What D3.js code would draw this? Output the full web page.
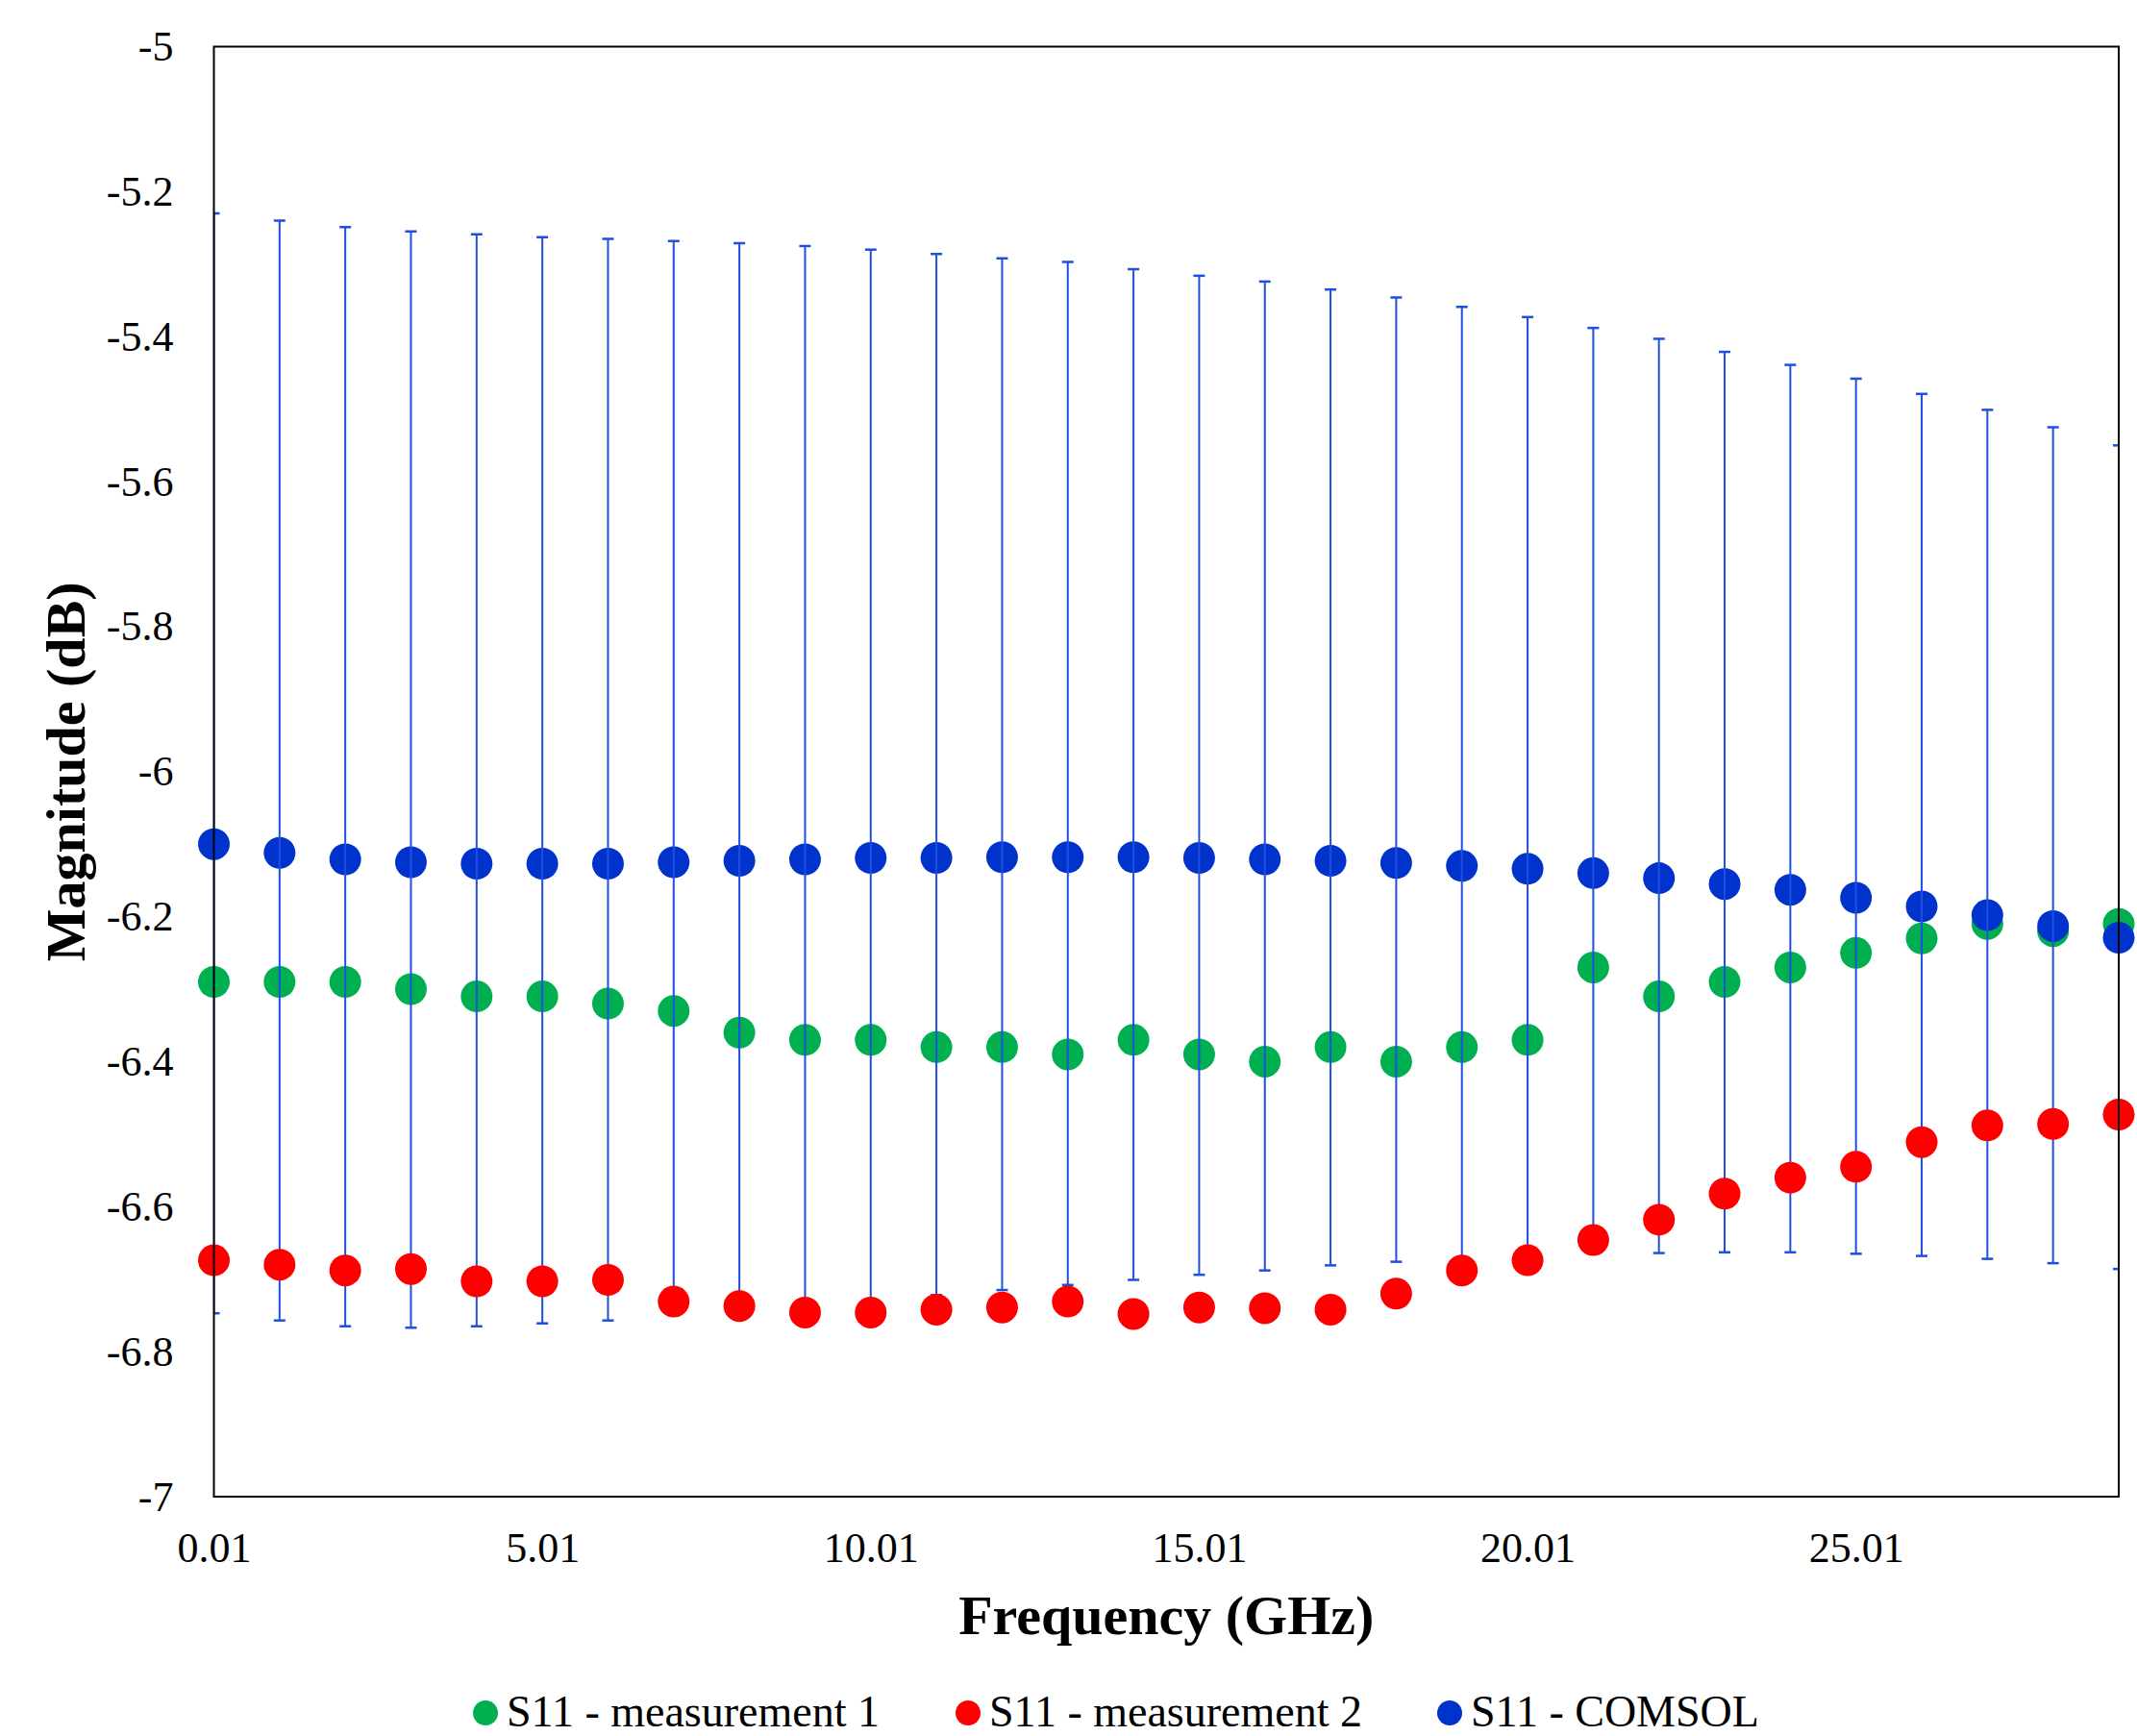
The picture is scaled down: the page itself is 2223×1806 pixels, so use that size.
<!DOCTYPE html>
<html>
<head>
<meta charset="utf-8">
<script src="https://cdn.jsdelivr.net/npm/d3@7"></script>
<style>
  html, body { margin: 0; padding: 0; background: #fff; }
  svg { display: block; }
  text { font-family: "Liberation Serif", "Times New Roman", serif; fill: #000; }
</style>
</head>
<body>
<svg id="chart" width="2223" height="1806"></svg>
<script>
// ---------- data ----------
const freq = [0.01,1.01,2.01,3.01,4.01,5.01,6.01,7.01,8.01,9.01,10.01,11.01,12.01,13.01,14.01,
              15.01,16.01,17.01,18.01,19.01,20.01,21.01,22.01,23.01,24.01,25.01,26.01,27.01,28.01,29.01];

const meas1 = [-6.29,-6.29,-6.29,-6.30,-6.31,-6.31,-6.32,-6.33,-6.36,-6.37,-6.37,-6.38,-6.38,-6.39,-6.37,
               -6.39,-6.40,-6.38,-6.40,-6.38,-6.37,-6.27,-6.31,-6.29,-6.27,-6.25,-6.23,-6.21,-6.22,-6.21];

const meas2 = [-6.674,-6.680,-6.688,-6.686,-6.703,-6.703,-6.701,-6.731,-6.737,-6.746,-6.746,-6.742,-6.739,-6.731,-6.748,
               -6.739,-6.740,-6.742,-6.720,-6.688,-6.674,-6.646,-6.618,-6.582,-6.560,-6.545,-6.511,-6.488,-6.486,-6.473];

const comsol = [-6.100,-6.112,-6.121,-6.125,-6.127,-6.127,-6.127,-6.125,-6.123,-6.121,-6.119,-6.119,-6.118,-6.118,-6.118,
                -6.119,-6.121,-6.123,-6.126,-6.130,-6.134,-6.140,-6.147,-6.155,-6.163,-6.174,-6.186,-6.198,-6.213,-6.229];

// error bar limits of the COMSOL series
const errTop = [-5.230,-5.240,-5.249,-5.255,-5.259,-5.263,-5.265,-5.268,-5.271,-5.275,-5.280,-5.286,-5.292,-5.297,-5.307,
                -5.316,-5.324,-5.335,-5.346,-5.359,-5.373,-5.388,-5.403,-5.421,-5.439,-5.458,-5.479,-5.501,-5.525,-5.550];
const errBottom = [-6.747,-6.757,-6.765,-6.767,-6.765,-6.761,-6.757,-6.750,-6.743,-6.736,-6.729,-6.722,-6.715,-6.708,-6.701,
                   -6.694,-6.688,-6.681,-6.676,-6.672,-6.668,-6.665,-6.664,-6.663,-6.663,-6.665,-6.668,-6.672,-6.678,-6.686];

const xTickValues = [0.01, 5.01, 10.01, 15.01, 20.01, 25.01];
const xTickLabels = ["0.01", "5.01", "10.01", "15.01", "20.01", "25.01"];
const yTickValues = [-5, -5.2, -5.4, -5.6, -5.8, -6, -6.2, -6.4, -6.6, -6.8, -7];
const yTickLabels = ["-5", "-5.2", "-5.4", "-5.6", "-5.8", "-6", "-6.2", "-6.4", "-6.6", "-6.8", "-7"];

const seriesNames = ["S11 - measurement 1", "S11 - measurement 2", "S11 - COMSOL"];
const seriesColors = ["#00B050", "#FF0000", "#0033CC"];
const errColor = "#1F4FE0";

// ---------- layout ----------
const svg = d3.select("#chart");
const plot = { left: 222.5, right: 2204, top: 48.5, bottom: 1557 };

const x = d3.scaleLinear().domain([0.01, 29.01]).range([plot.left, plot.right]);
const y = d3.scaleLinear().domain([-7, -5]).range([plot.bottom, plot.top]);

svg.append("defs").append("clipPath").attr("id", "plotClip")
  .append("rect")
  .attr("x", plot.left).attr("y", plot.top)
  .attr("width", plot.right - plot.left).attr("height", plot.bottom - plot.top);

// axes (no tick marks, labels only)
const yAxis = d3.axisLeft(y).tickValues(yTickValues)
  .tickFormat((d, i) => yTickLabels[i]).tickSize(0).tickPadding(42);
const gy = svg.append("g").attr("transform", `translate(${plot.left},0)`).call(yAxis);
gy.select(".domain").remove();
gy.selectAll("text").style("font-family", '"Liberation Serif", serif').style("font-size", "44px").attr("fill", "#000");

const xAxis = d3.axisBottom(x).tickValues(xTickValues)
  .tickFormat((d, i) => xTickLabels[i]).tickSize(0).tickPadding(37);
const gx = svg.append("g").attr("transform", `translate(0,${plot.bottom})`).call(xAxis);
gx.select(".domain").remove();
gx.selectAll("text").style("font-family", '"Liberation Serif", serif').style("font-size", "44px").attr("fill", "#000");

// green series
svg.append("g").selectAll("circle").data(freq).join("circle")
  .attr("cx", d => x(d)).attr("cy", (d, i) => y(meas1[i])).attr("r", 16.5)
  .attr("fill", seriesColors[0]);

// blue series
svg.append("g").selectAll("circle").data(freq).join("circle")
  .attr("cx", d => x(d)).attr("cy", (d, i) => y(comsol[i])).attr("r", 16.5)
  .attr("fill", seriesColors[2]);

// error bars
const eb = svg.append("g").attr("clip-path", "url(#plotClip)")
  .attr("stroke", errColor).attr("stroke-width", 2).attr("fill", "none");
freq.forEach((f, i) => {
  const cx = x(f);
  eb.append("line").attr("x1", cx).attr("x2", cx).attr("y1", y(errTop[i])).attr("y2", y(errBottom[i]));
  eb.append("line").attr("x1", cx - 6).attr("x2", cx + 6).attr("y1", y(errTop[i])).attr("y2", y(errTop[i])).attr("stroke-width", 2.5);
  eb.append("line").attr("x1", cx - 6).attr("x2", cx + 6).attr("y1", y(errBottom[i])).attr("y2", y(errBottom[i])).attr("stroke-width", 2.5);
});

// red series
svg.append("g").selectAll("circle").data(freq).join("circle")
  .attr("cx", d => x(d)).attr("cy", (d, i) => y(meas2[i])).attr("r", 16.5)
  .attr("fill", seriesColors[1]);

// plot frame
svg.append("rect")
  .attr("x", plot.left).attr("y", plot.top)
  .attr("width", plot.right - plot.left).attr("height", plot.bottom - plot.top)
  .attr("fill", "none").attr("stroke", "#000").attr("stroke-width", 2);

// axis titles
svg.append("text")
  .attr("x", (plot.left + plot.right) / 2).attr("y", 1700)
  .attr("text-anchor", "middle")
  .style("font-size", "58px").style("font-weight", "bold")
  .text("Frequency (GHz)");

svg.append("text")
  .attr("transform", `translate(88,${(plot.top + plot.bottom) / 2}) rotate(-90)`)
  .attr("text-anchor", "middle")
  .style("font-size", "58px").style("font-weight", "bold")
  .text("Magnitude (dB)");

// legend
const legendX = [505, 1007, 1508];
const legend = svg.append("g");
seriesNames.forEach((name, i) => {
  legend.append("circle").attr("cx", legendX[i]).attr("cy", 1782).attr("r", 13).attr("fill", seriesColors[i]);
  legend.append("text").attr("x", legendX[i] + 22).attr("y", 1796)
    .style("font-size", "46px").text(name);
});
</script>
</body>
</html>
